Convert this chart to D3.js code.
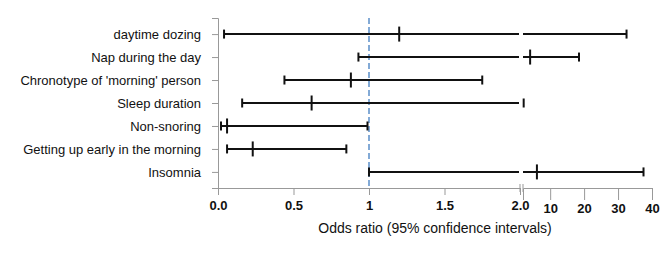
<!DOCTYPE html>
<html>
<head>
<meta charset="utf-8">
<script src="https://cdn.jsdelivr.net/npm/d3@7"></script>
<style>
  body { margin: 0; background: #fff; }
  svg { font-family: "Liberation Sans", Arial, sans-serif; }
</style>
</head>
<body>
<div id="chart"></div>
<script>
// odds ratios with 95% CI
const factors = ["daytime dozing", "Nap during the day", "Chronotype of 'morning' person",
                 "Sleep duration", "Non-snoring", "Getting up early in the morning", "Insomnia"];
const oddsRatio = [1.2, 4.1, 0.88, 0.62, 0.06, 0.23, 6.1];
const lowerCI   = [0.04, 0.93, 0.44, 0.16, 0.02, 0.06, 1.0];
const upperCI   = [32.5, 18.5, 1.75, 2.2, 0.99, 0.85, 37.5];
const ticksLow  = [0, 0.5, 1, 1.5, 2];
const ticksHigh = [10, 20, 30, 40];

const data = factors.map((f, i) => ({ name: f, or: oddsRatio[i], lo: lowerCI[i], hi: upperCI[i] }));

const width = 669, height = 260,
      margin = ({ top: 18, bottom: 72, left: 218 });

let svg = d3.select("#chart")
    .append("svg")
    .attr("width", width)
    .attr("height", height);

// broken x axis: linear 0-2, then compressed 2-40
let x1 = d3.scaleLinear().domain([0, 2]).range([218, 520]);
let x2 = d3.scaleLinear().domain([2, 40]).range([523, 652]);
const xpos = v => v <= 2 ? x1(v) : x2(v);

let y = d3.scalePoint()
    .domain(factors)
    .range([margin.top, height - margin.bottom])
    .padding(0.7);

const axisY = height - margin.bottom;

// x axis, first part
let gx1 = svg.append("g")
    .attr("transform", `translate(0,${axisY})`)
    .call(d3.axisBottom(x1).tickValues(ticksLow).tickSizeOuter(0).tickSize(7).tickPadding(6)
        .tickFormat(d => d === 1 ? "1" : d.toFixed(1)));

// x axis, second part
let gx2 = svg.append("g")
    .attr("transform", `translate(0,${axisY})`)
    .call(d3.axisBottom(x2).tickValues(ticksHigh).tickSizeOuter(0).tickSize(12).tickPadding(4));

for (let g of [gx1, gx2]) {
    g.selectAll("path, line").attr("stroke", "#999");
    g.selectAll("text")
        .attr("fill", "#111")
        .attr("font-size", 13)
        .attr("font-weight", "bold")
        .attr("font-family", "Liberation Sans, Arial, sans-serif");
}

// break marks
svg.selectAll(".brk")
    .data([x1(2), x2(2)])
    .join("line")
    .attr("x1", d => d).attr("x2", d => d)
    .attr("y1", axisY - 4).attr("y2", axisY + 4)
    .attr("stroke", "#999");

// y axis
let gy = svg.append("g")
    .attr("transform", `translate(${margin.left},0)`)
    .call(d3.axisLeft(y).tickSizeOuter(0).tickSize(6).tickPadding(11));
gy.selectAll("path, line").attr("stroke", "#999");
gy.selectAll("text")
    .attr("fill", "#111")
    .attr("font-size", 13)
    .attr("font-family", "Liberation Sans, Arial, sans-serif");

// reference line at OR = 1
svg.append("line")
    .attr("x1", x1(1)).attr("x2", x1(1))
    .attr("y1", margin.top).attr("y2", axisY)
    .attr("stroke", "#5b8fc9")
    .attr("stroke-width", 1.5)
    .attr("stroke-dasharray", "6,3");

let row = svg.selectAll(".row")
    .data(data)
    .join("g")
    .attr("class", "row")
    .attr("stroke", "#111")
    .attr("stroke-width", 2);

// CI line, split at the axis break
row.filter(d => d.lo < 2).append("line")
    .attr("x1", d => x1(d.lo))
    .attr("x2", d => x1(Math.min(d.hi, 2)) - (d.hi > 2 ? 1 : 0))
    .attr("y1", d => y(d.name)).attr("y2", d => y(d.name));

row.filter(d => d.hi > 2).append("line")
    .attr("x1", d => x2(Math.max(d.lo, 2)))
    .attr("x2", d => x2(d.hi))
    .attr("y1", d => y(d.name)).attr("y2", d => y(d.name));

// end caps
for (let key of ["lo", "hi"]) {
    row.append("line")
        .attr("x1", d => xpos(d[key])).attr("x2", d => xpos(d[key]))
        .attr("y1", d => y(d.name) - 4.5).attr("y2", d => y(d.name) + 4.5);
}

// point estimate
row.append("line")
    .attr("x1", d => xpos(d.or)).attr("x2", d => xpos(d.or))
    .attr("y1", d => y(d.name) - 7.5).attr("y2", d => y(d.name) + 7.5);

// axis title
svg.append("text")
    .attr("x", 435)
    .attr("y", axisY + 45)
    .attr("text-anchor", "middle")
    .attr("font-size", 14)
    .attr("fill", "#111")
    .text("Odds ratio (95% confidence intervals)");
</script>
</body>
</html>
